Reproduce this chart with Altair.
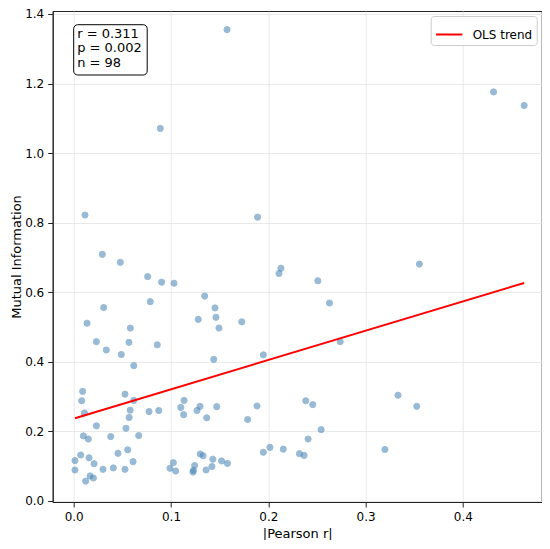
import altair as alt
import pandas as pd

# |Pearson r| values (x) and Mutual Information values (y)
pearson_r = [
    0.0092, 0.0082, 0.0110, 0.0527, 0.0617, 0.0580, 0.0570, 0.0774, 0.0874, 0.1100,
    0.0233, 0.0099, 0.0150, 0.0380, 0.0537, 0.0668, 0.0072, 0.0013, 0.0013, 0.0157,
    0.0209, 0.0455, 0.0555, 0.0610, 0.0301, 0.0407, 0.0527, 0.0168, 0.0202, 0.0123,
    0.1024, 0.0990, 0.1048,
    0.1134, 0.1130, 0.1298, 0.1267, 0.1367, 0.1470, 0.1788, 0.1884, 0.1300, 0.1330,
    0.1243, 0.1230, 0.1226, 0.1430, 0.1420, 0.1360, 0.1520, 0.1580, 0.1949, 0.2017,
    0.2154,
    0.4316, 0.4630, 0.3553, 0.2509, 0.2629, 0.2739, 0.2385, 0.2457, 0.3333, 0.3526,
    0.2543, 0.2409, 0.2320, 0.2368, 0.3199,
    0.0294, 0.0479, 0.0760, 0.0904, 0.1031, 0.0308, 0.0787, 0.0137, 0.0582, 0.0233,
    0.0568, 0.0859, 0.0335, 0.0489, 0.0617,
    0.2130, 0.2110, 0.1346, 0.1452, 0.1280, 0.1462, 0.1727, 0.1493, 0.1439, 0.1949,
    0.1576, 0.0890, 0.0116, 0.1890,
]
mutual_info = [
    0.315, 0.288, 0.253, 0.307, 0.289, 0.261, 0.240, 0.257, 0.260, 0.269,
    0.216, 0.187, 0.178, 0.185, 0.209, 0.188, 0.132, 0.116, 0.089, 0.124,
    0.107, 0.137, 0.147, 0.113, 0.091, 0.095, 0.091, 0.072, 0.066, 0.057,
    0.110, 0.094, 0.086,
    0.289, 0.248, 0.272, 0.260, 0.239, 0.271, 0.234, 0.273, 0.135, 0.130,
    0.102, 0.088, 0.083, 0.120, 0.099, 0.089, 0.115, 0.108, 0.140, 0.154,
    0.149,
    1.176, 1.137, 0.681, 0.633, 0.569, 0.458, 0.288, 0.277, 0.304, 0.272,
    0.205, 0.178, 0.136, 0.131, 0.148,
    0.709, 0.686, 0.645, 0.629, 0.626, 0.556, 0.573, 0.511, 0.497, 0.458,
    0.456, 0.449, 0.434, 0.421, 0.389,
    0.669, 0.654, 0.589, 0.555, 0.522, 0.528, 0.515, 0.497, 0.407, 0.420,
    1.355, 1.071, 0.822, 0.816,
]
x_ticks = [0.0, 0.1, 0.2, 0.3, 0.4]
y_ticks = [0.0, 0.2, 0.4, 0.6, 0.8, 1.0, 1.2, 1.4]
stats_lines = ["r = 0.311", "p = 0.002", "n = 98"]
trend_label = "OLS trend"

df = pd.DataFrame({"pearson": pearson_r, "mi": mutual_info})
FONT = "DejaVu Sans"

x_enc = alt.X(
    "pearson:Q",
    scale=alt.Scale(domain=[-0.0216, 0.4810], nice=False, zero=False),
    axis=alt.Axis(values=x_ticks, format=".1f", title="|Pearson r|"),
)
y_enc = alt.Y(
    "mi:Q",
    scale=alt.Scale(domain=[-0.003, 1.4086], nice=False, zero=False),
    axis=alt.Axis(values=y_ticks, format=".1f", title="Mutual Information"),
)

points = alt.Chart(df).mark_circle(
    size=38, color="#4682b4", opacity=0.55, stroke="#4682b4", strokeWidth=1
).encode(x=x_enc, y=y_enc)

trend = (
    alt.Chart(df)
    .transform_regression("pearson", "mi")
    .transform_calculate(label=f"'{trend_label}'")
    .mark_line(strokeWidth=2, clip=True)
    .encode(
        x="pearson:Q",
        y="mi:Q",
        color=alt.Color(
            "label:N",
            scale=alt.Scale(domain=[trend_label], range=["red"]),
            legend=alt.Legend(
                title=None,
                orient="top-right",
                offset=5,
                symbolType="stroke",
                symbolSize=700,
                symbolStrokeWidth=2,
                labelFont=FONT,
                labelFontSize=12,
                labelColor="black",
                labelOffset=9,
                padding=4,
                strokeColor="#cccccc",
                fillColor="white",
                cornerRadius=3,
            ),
        ),
    )
)

box_df = pd.DataFrame({"txt": [stats_lines]})
box = alt.Chart(box_df).mark_rect(
    fill="white", stroke="black", strokeWidth=1, cornerRadius=4
).encode(x=alt.value(21), x2=alt.value(94.5), y=alt.value(13.7), y2=alt.value(64))
box_text = alt.Chart(box_df).mark_text(
    align="left", baseline="top", font=FONT, fontSize=13, lineHeight=15, color="black"
).encode(x=alt.value(24.5), y=alt.value(16.5), text="txt")

chart = (
    alt.layer(points, trend, box, box_text)
    .properties(
        width=489,
        height=491,
        autosize=alt.AutoSizeParams(type="none"),
        padding={"left": 44.7, "top": 3, "right": 0, "bottom": 38},
        background="white",
    )
    .configure_view(stroke="#222222", strokeWidth=1)
    .configure_axis(
        grid=True,
        gridColor="#e3e3e3",
        gridWidth=0.8,
        domainColor="#222222",
        domainWidth=1,
        tickColor="#222222",
        tickSize=5,
        tickWidth=1,
        labelFont=FONT,
        labelFontSize=12,
        labelColor="black",
        titleFont=FONT,
        titleFontSize=13,
        titleFontWeight="normal",
        titleColor="black",
    )
    .configure_axisX(titlePadding=5, labelPadding=5)
    .configure_axisY(titlePadding=1, labelPadding=4)
)

chart.save("out.html", embed_options={"renderer": "svg", "actions": False})
